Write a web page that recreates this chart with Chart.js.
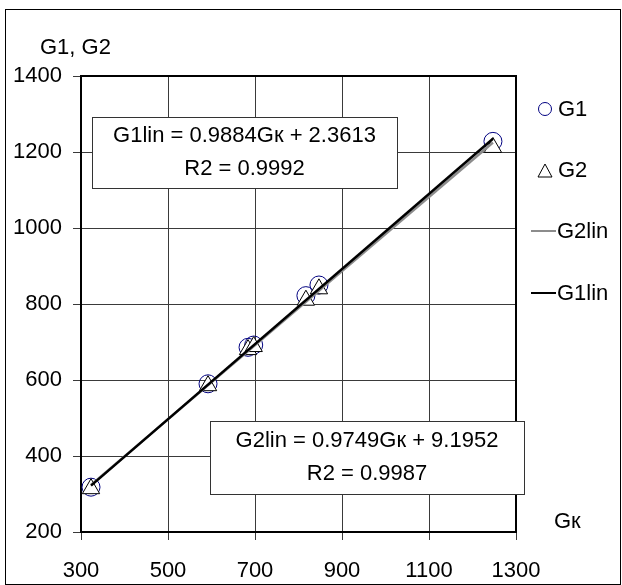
<!DOCTYPE html>
<html lang="ru">
<head>
    <meta charset="UTF-8">
    <title>G1, G2 от Gк</title>
    <script src="https://cdn.jsdelivr.net/npm/chart.js"></script>
    <style>
        body {
            margin: 0;
            background: #fff;
        }
        #chart {
            display: block;
        }
    </style>
</head>
<body>
    <canvas id="chart" width="622" height="585"></canvas>
    <script>
        // Данные
        const gk = [323, 592, 684, 697, 817, 847, 1247];
        const g1 = [318, 590, 686, 692, 822, 850, 1228];
        const g2 = [314, 585, 680, 688, 810, 840, 1212];

        // концы линий тренда
        const linX = [323, 1247];
        const g1lin = [322, 1235];
        const g2lin = [324, 1225];

        const xTicks = [300, 500, 700, 900, 1100, 1300];
        const yTicks = [200, 400, 600, 800, 1000, 1200, 1400];

        const eq1 = ['G1lin = 0.9884Gк + 2.3613', 'R2 = 0.9992'];
        const eq2 = ['G2lin = 0.9749Gк + 9.1952', 'R2 = 0.9987'];

        const FAMILY = '"Liberation Sans", Arial, sans-serif';
        const FONT = '22px ' + FAMILY;
        const GRID = '#3a3a3a';

        function pts(xs, ys) {
            return xs.map((x, i) => ({ x: x, y: ys[i] }));
        }

        // рамки, подписи осей, уравнения и легенда
        const decor = {
            id: 'decor',
            beforeDatasetsDraw(chart) {
                const ctx = chart.ctx;
                const a = chart.chartArea;
                ctx.save();
                // верх и право области построения
                ctx.strokeStyle = '#000';
                ctx.lineWidth = 2;
                ctx.beginPath();
                ctx.moveTo(a.left, a.top);
                ctx.lineTo(a.right, a.top);
                ctx.lineTo(a.right, a.bottom);
                ctx.stroke();

                // текстовые поля с уравнениями
                function box(x, y, w, h, lines) {
                    ctx.fillStyle = '#fff';
                    ctx.fillRect(x, y, w, h);
                    ctx.strokeStyle = '#333';
                    ctx.lineWidth = 1;
                    ctx.strokeRect(x + 0.5, y + 0.5, w, h);
                    ctx.fillStyle = '#000';
                    ctx.font = FONT;
                    ctx.textAlign = 'center';
                    ctx.textBaseline = 'middle';
                    ctx.fillText(lines[0], x + w / 2, y + h * 0.27);
                    ctx.fillText(lines[1], x + w / 2, y + h * 0.73);
                }
                box(92, 117, 305, 71, eq1);
                box(210, 421, 314, 73, eq2);
                ctx.restore();
            },
            afterDraw(chart) {
                const ctx = chart.ctx;
                ctx.save();
                // внешняя рамка
                ctx.strokeStyle = '#000';
                ctx.lineWidth = 1;
                ctx.strokeRect(5.5, 9.5, 615, 575);

                ctx.fillStyle = '#000';
                ctx.font = FONT;
                ctx.textAlign = 'left';
                ctx.textBaseline = 'alphabetic';
                ctx.fillText('G1, G2', 40, 54);
                ctx.fillText('Gк', 554, 528);

                // легенда
                const lx = 545;
                const tx = 558;
                ctx.textBaseline = 'middle';
                ctx.lineWidth = 1;
                ctx.strokeStyle = '#000080';
                ctx.beginPath();
                ctx.arc(lx, 109, 6.5, 0, Math.PI * 2);
                ctx.stroke();
                ctx.fillText('G1', tx, 110);

                ctx.strokeStyle = '#000';
                ctx.beginPath();
                ctx.moveTo(lx, 164);
                ctx.lineTo(lx + 7, 177);
                ctx.lineTo(lx - 7, 177);
                ctx.closePath();
                ctx.stroke();
                ctx.fillText('G2', tx, 171);

                ctx.lineWidth = 2;
                ctx.strokeStyle = '#8c8c8c';
                ctx.beginPath();
                ctx.moveTo(531, 231);
                ctx.lineTo(556, 231);
                ctx.stroke();
                ctx.fillText('G2lin', 557, 232);

                ctx.strokeStyle = '#000';
                ctx.beginPath();
                ctx.moveTo(531, 293);
                ctx.lineTo(556, 293);
                ctx.stroke();
                ctx.fillText('G1lin', 557, 294);
                ctx.restore();
            }
        };

        new Chart(document.getElementById('chart'), {
            type: 'scatter',
            data: {
                datasets: [
                    {
                        label: 'G1',
                        data: pts(gk, g1),
                        pointStyle: 'circle',
                        radius: 9,
                        borderColor: '#000080',
                        backgroundColor: 'rgba(0,0,0,0)',
                        borderWidth: 1,
                        order: 4
                    },
                    {
                        label: 'G2',
                        data: pts(gk, g2),
                        pointStyle: 'triangle',
                        radius: 10,
                        borderColor: '#000',
                        backgroundColor: '#fff',
                        borderWidth: 1,
                        order: 3
                    },
                    {
                        label: 'G2lin',
                        type: 'line',
                        data: pts(linX, g2lin),
                        borderColor: '#8c8c8c',
                        borderWidth: 2.5,
                        pointRadius: 0,
                        fill: false,
                        order: 2
                    },
                    {
                        label: 'G1lin',
                        type: 'line',
                        data: pts(linX, g1lin),
                        borderColor: '#000',
                        borderWidth: 2.5,
                        pointRadius: 0,
                        fill: false,
                        order: 1
                    }
                ]
            },
            options: {
                responsive: false,
                animation: false,
                layout: {
                    padding: { left: 0, top: 76, right: 106, bottom: 0 }
                },
                plugins: {
                    legend: { display: false },
                    tooltip: { enabled: false }
                },
                scales: {
                    x: {
                        type: 'linear',
                        min: xTicks[0],
                        max: xTicks[xTicks.length - 1],
                        afterBuildTicks: (s) => { s.ticks = xTicks.map(v => ({ value: v })); },
                        afterFit: (s) => { s.height = 53; },
                        ticks: {
                            color: '#000',
                            font: { family: FAMILY, size: 22 },
                            padding: 18,
                            maxRotation: 0,
                            callback: (v) => String(v)
                        },
                        grid: { color: GRID, lineWidth: 1, tickLength: 8 },
                        border: { display: true, color: '#000', width: 2 }
                    },
                    y: {
                        type: 'linear',
                        min: yTicks[0],
                        max: yTicks[yTicks.length - 1],
                        afterBuildTicks: (s) => { s.ticks = yTicks.map(v => ({ value: v })); },
                        afterFit: (s) => { s.width = 81; },
                        ticks: {
                            color: '#000',
                            font: { family: FAMILY, size: 22 },
                            padding: 11,
                            callback: (v) => String(v)
                        },
                        grid: { color: GRID, lineWidth: 1, tickLength: 8 },
                        border: { display: true, color: '#000', width: 2 }
                    }
                }
            },
            plugins: [decor]
        });
    </script>
</body>
</html>
